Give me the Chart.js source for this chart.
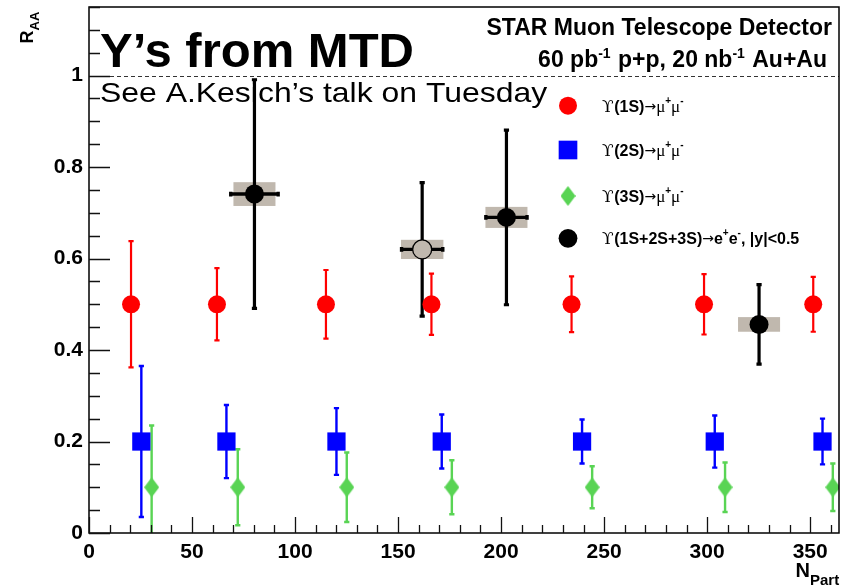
<!DOCTYPE html>
<html>
<head>
<meta charset="utf-8">
<script src="https://cdn.jsdelivr.net/npm/chart.js@4.4.0/dist/chart.umd.min.js"></script>
<style>
  html, body { margin: 0; padding: 0; background: #fff; }
  #wrap { width: 856px; height: 587px; position: relative; }
</style>
</head>
<body>
<div id="wrap"><canvas id="c" width="856" height="587"></canvas></div>
<script>
// Upsilon(1S) -> mu+ mu-
const npart1S = [20.4, 62.1, 115.0, 166.2, 234.2, 298.5, 351.5];
const raa1S   = [0.5, 0.5, 0.5, 0.5, 0.5, 0.5, 0.5];
const err1S   = [0.138, 0.079, 0.075, 0.067, 0.061, 0.066, 0.060];

// Upsilon(2S) -> mu+ mu-
const npart2S = [25.4, 66.7, 120.1, 171.2, 239.3, 303.7, 356.0];
const raa2S   = [0.2, 0.2, 0.2, 0.2, 0.2, 0.2, 0.2];
const err2S   = [0.165, 0.080, 0.073, 0.059, 0.048, 0.057, 0.050];

// Upsilon(3S) -> mu+ mu-
const npart3S = [30.4, 72.2, 125.1, 176.1, 244.2, 308.7, 361.0];
const raa3S   = [0.1, 0.1, 0.1, 0.1, 0.1, 0.1, 0.1];
const err3S   = [0.135, 0.083, 0.076, 0.059, 0.046, 0.054, 0.052];

// Upsilon(1S+2S+3S) -> e+ e-, |y|<0.5
const npartEE    = [80.3, 161.7, 202.6, 325.2];
const raaEE      = [0.741, 0.620, 0.690, 0.456];
const statEE     = [0.250, 0.146, 0.191, 0.087];
const npartErrEE = [11.5, 10.0, 10.0, 0];
const sysEE      = [0.026, 0.021, 0.023, 0.016];
const sysNpartEE = [10.2, 10.3, 10.2, 10.2];

// axis tick labels
const xTickValues = [0, 50, 100, 150, 200, 250, 300, 350];
const yTickValues = [0, 0.2, 0.4, 0.6, 0.8, 1];

const RED = '#ff0000', BLUE = '#0000ff', GREEN = '#59d454', BOX = '#c0b8ae';

const toPoints = (xs, ys) => xs.map((v, i) => ({ x: v, y: ys[i] }));

function diamondStyle(w, h, color) {
  const c = document.createElement('canvas');
  c.width = w; c.height = h;
  const g = c.getContext('2d');
  g.fillStyle = color;
  g.beginPath();
  g.moveTo(w / 2, 0); g.lineTo(w, h / 2); g.lineTo(w / 2, h); g.lineTo(0, h / 2);
  g.closePath();
  g.fill();
  return c;
}
const greenDiamond = diamondStyle(15, 20, GREEN);

const barSeries = [
  { xs: npart1S, ys: raa1S, err: err1S, color: RED,   width: 2.2 },
  { xs: npart2S, ys: raa2S, err: err2S, color: BLUE,  width: 2.4 },
  { xs: npart3S, ys: raa3S, err: err3S, color: GREEN, width: 2.4 },
  { xs: npartEE, ys: raaEE, err: statEE, color: '#000', width: 3.2 }
];

function drawRuns(ctx, x, y, runs) {
  for (const r of runs) {
    ctx.font = r.font;
    ctx.fillText(r.text, x, y - (r.rise || 0));
    x += ctx.measureText(r.text).width + (r.gap || 0);
  }
  return x;
}
function runsWidth(ctx, runs) {
  let w = 0;
  for (const r of runs) { ctx.font = r.font; w += ctx.measureText(r.text).width + (r.gap || 0); }
  return w;
}

const SANS = '"Liberation Sans", Arial, sans-serif';
const SERIF = '"Liberation Serif", "DejaVu Serif", serif';
const UPS = '"DejaVu Serif", serif';

const overlay = {
  id: 'overlay',
  beforeDatasetsDraw(chart) {
    const { ctx, chartArea: a, scales: { x, y } } = chart;
    ctx.save();
    ctx.fillStyle = '#000';
    ctx.textAlign = 'left';
    ctx.textBaseline = 'alphabetic';

    // captions inside the frame
    ctx.font = 'bold 49px ' + SANS;
    ctx.fillText('Y\u2019s from MTD', a.left + 11, 66.7);
    ctx.save();
    ctx.translate(a.left + 11, 101.7);
    ctx.scale(1.14, 1);
    ctx.font = '28px ' + SANS;
    ctx.fillText('See A.Kesich\u2019s talk on Tuesday', 0, 0);
    ctx.restore();

    ctx.font = 'bold 23px ' + SANS;
    const l1 = 'STAR Muon Telescope Detector';
    ctx.fillText(l1, 832 - ctx.measureText(l1).width, 35);
    const B = 'bold 23px ' + SANS, S = 'bold 14px ' + SANS;
    const line2 = [
      { text: '60 pb', font: B }, { text: '-1', font: S, rise: 9, gap: 1 },
      { text: ' p+p, 20 nb', font: B }, { text: '-1', font: S, rise: 9, gap: 1 },
      { text: ' Au+Au', font: B }
    ];
    drawRuns(ctx, 827 - runsWidth(ctx, line2), 66.7, line2);

    // dashed reference line at R_AA = 1
    const y1 = Math.round(y.getPixelForValue(1)) + 0.5;
    ctx.strokeStyle = '#333';
    ctx.lineWidth = 1.2;
    ctx.setLineDash([4, 3]);
    ctx.beginPath();
    ctx.moveTo(a.left, y1);
    ctx.lineTo(a.right, y1);
    ctx.stroke();
    ctx.setLineDash([]);

    ctx.beginPath(); ctx.rect(a.left, a.top, a.width, a.height); ctx.clip();

    // systematic uncertainty boxes
    ctx.fillStyle = BOX;
    npartEE.forEach((n, i) => {
      const x0 = x.getPixelForValue(n - sysNpartEE[i]);
      const x1 = x.getPixelForValue(n + sysNpartEE[i]);
      const y0 = y.getPixelForValue(raaEE[i] + sysEE[i]);
      const yb = y.getPixelForValue(raaEE[i] - sysEE[i]);
      ctx.fillRect(x0, y0, x1 - x0, yb - y0);
    });

    // statistical error bars
    ctx.lineCap = 'butt';
    for (const s of barSeries) {
      ctx.strokeStyle = s.color;
      ctx.lineWidth = s.width;
      s.xs.forEach((n, i) => {
        const px = x.getPixelForValue(n);
        const yTop = y.getPixelForValue(s.ys[i] + s.err[i]);
        const yBot = y.getPixelForValue(s.ys[i] - s.err[i]);
        ctx.beginPath();
        ctx.moveTo(px, yTop); ctx.lineTo(px, yBot);
        ctx.moveTo(px - 2.6, yTop); ctx.lineTo(px + 2.6, yTop);
        ctx.moveTo(px - 2.6, yBot); ctx.lineTo(px + 2.6, yBot);
        ctx.stroke();
      });
    }
    // horizontal bars of the dielectron points
    ctx.strokeStyle = '#000';
    ctx.lineWidth = 3.4;
    npartEE.forEach((n, i) => {
      if (!npartErrEE[i]) return;
      const py = y.getPixelForValue(raaEE[i]);
      const xl = x.getPixelForValue(n - npartErrEE[i]);
      const xr = x.getPixelForValue(n + npartErrEE[i]);
      ctx.beginPath();
      ctx.moveTo(xl, py); ctx.lineTo(xr, py);
      ctx.moveTo(xl, py - 2.4); ctx.lineTo(xl, py + 2.4);
      ctx.moveTo(xr, py - 2.4); ctx.lineTo(xr, py + 2.4);
      ctx.stroke();
    });
    ctx.restore();
  },
  afterDatasetsDraw(chart) {
    const { ctx, chartArea: a, scales: { x, y } } = chart;
    ctx.save();
    // frame
    ctx.strokeStyle = '#000';
    ctx.lineWidth = 1.5;
    ctx.strokeRect(a.left, a.top, a.width, a.height);

    // inward tick marks
    ctx.lineWidth = 1.3;
    ctx.strokeStyle = '#111';
    ctx.beginPath();
    for (let k = 0; k <= 23; k++) {
      const py = Math.round(y.getPixelForValue(k * 0.05)) + 0.5;
      const len = (k % 4 === 0) ? 21 : 11;
      ctx.moveTo(a.left, py); ctx.lineTo(a.left + len, py);
    }
    for (let k = 0; k <= 36; k++) {
      const px = Math.round(x.getPixelForValue(k * 10)) + 0.5;
      const len = (k % 5 === 0) ? 16 : 8;
      ctx.moveTo(px, a.bottom); ctx.lineTo(px, a.bottom - len);
    }
    ctx.stroke();

    // axis titles
    ctx.fillStyle = '#000';
    ctx.textBaseline = 'alphabetic';
    ctx.textAlign = 'left';
    ctx.save();
    ctx.translate(33.3, 43.5);
    ctx.rotate(-Math.PI / 2);
    drawRuns(ctx, 0, 0, [
      { text: 'R', font: 'bold 18px ' + SANS },
      { text: 'AA', font: 'bold 13px ' + SANS, rise: -6 }
    ]);
    ctx.restore();
    drawRuns(ctx, 795.5, 576.7, [
      { text: 'N', font: 'bold 20px ' + SANS },
      { text: 'Part', font: 'bold 15px ' + SANS, rise: -8 }
    ]);

    // legend
    const rows = [
      { y: 105.7, color: RED, style: 'circle', radius: 9, label: '(1S)', tail: 'mu' },
      { y: 150.0, color: BLUE, style: 'rect', radius: 13.2, label: '(2S)', tail: 'mu' },
      { y: 196.0, color: GREEN, style: greenDiamond, radius: 10, label: '(3S)', tail: 'mu' },
      { y: 238.3, color: '#000', style: 'circle', radius: 9.4, label: '(1S+2S+3S)', tail: 'ee' }
    ];
    const LB = 'bold 16px ' + SANS, SUP = 'bold 10px ' + SANS, MU = '17px ' + SERIF;
    for (const r of rows) {
      ctx.fillStyle = r.color;
      Chart.helpers.drawPoint(ctx, { pointStyle: r.style, radius: r.radius, rotation: 0, borderWidth: 0 }, 568, r.y);
      ctx.fillStyle = '#000';
      const runs = [
        { text: '\u03d2', font: '17px ' + UPS, gap: 0.5 },
        { text: r.label, font: LB },
        { text: '\u2192', font: '14px "DejaVu Sans", sans-serif', rise: 1 }
      ];
      if (r.tail === 'mu') {
        runs.push({ text: '\u03bc', font: MU }, { text: '+', font: SUP, rise: 8 },
                  { text: '\u03bc', font: MU }, { text: '-', font: SUP, rise: 8 });
      } else {
        runs.push({ text: 'e', font: LB }, { text: '+', font: SUP, rise: 8 },
                  { text: 'e', font: LB }, { text: '-', font: SUP, rise: 8 },
                  { text: ', |y|<0.5', font: LB });
      }
      drawRuns(ctx, 602, r.y + 6, runs);
    }
    ctx.restore();
  }
};

new Chart(document.getElementById('c'), {
  type: 'scatter',
  data: {
    datasets: [
      {
        label: 'ee',
        data: toPoints(npartEE, raaEE),
        pointStyle: 'circle',
        pointRadius: 9.5,
        pointBackgroundColor: ['#000', BOX, '#000', '#000'],
        pointBorderColor: '#000',
        pointBorderWidth: [0, 1.3, 0, 0]
      },
      {
        label: '1S',
        data: toPoints(npart1S, raa1S),
        pointStyle: 'circle',
        pointRadius: 9,
        pointBackgroundColor: RED,
        pointBorderWidth: 0
      },
      {
        label: '2S',
        data: toPoints(npart2S, raa2S),
        pointStyle: 'rect',
        pointRadius: 12.9,
        pointBackgroundColor: BLUE,
        pointBorderWidth: 0
      },
      {
        label: '3S',
        data: toPoints(npart3S, raa3S),
        pointStyle: greenDiamond,
        pointRadius: 10,
        pointBackgroundColor: GREEN,
        pointBorderWidth: 0
      }
    ]
  },
  options: {
    responsive: false,
    animation: false,
    events: [],
    layout: { autoPadding: false, padding: { top: 7, right: 17, bottom: 0, left: 0 } },
    plugins: { legend: { display: false }, tooltip: { enabled: false } },
    scales: {
      x: {
        type: 'linear',
        min: 0,
        max: 364,
        afterBuildTicks: s => { s.ticks = xTickValues.map(v => ({ value: v })); },
        afterFit: s => { s.height = 54; s.paddingLeft = 0; s.paddingRight = 0; },
        grid: { display: false, drawTicks: false },
        border: { display: false },
        ticks: {
          color: '#000',
          font: { family: SANS, size: 21, weight: 'bold' },
          padding: 7,
          maxRotation: 0,
          autoSkip: false,
          callback: v => String(v)
        }
      },
      y: {
        type: 'linear',
        min: 0,
        max: 1.15,
        afterBuildTicks: s => { s.ticks = yTickValues.map(v => ({ value: v })); },
        afterFit: s => { s.width = 89; s.paddingTop = 0; s.paddingBottom = 0; },
        grid: { display: false, drawTicks: false },
        border: { display: false },
        ticks: {
          color: '#000',
          font: { family: SANS, size: 21, weight: 'bold', lineHeight: 0.5 },
          padding: 6,
          autoSkip: false,
          callback: v => String(v)
        }
      }
    }
  },
  plugins: [overlay]
});
</script>
</body>
</html>
